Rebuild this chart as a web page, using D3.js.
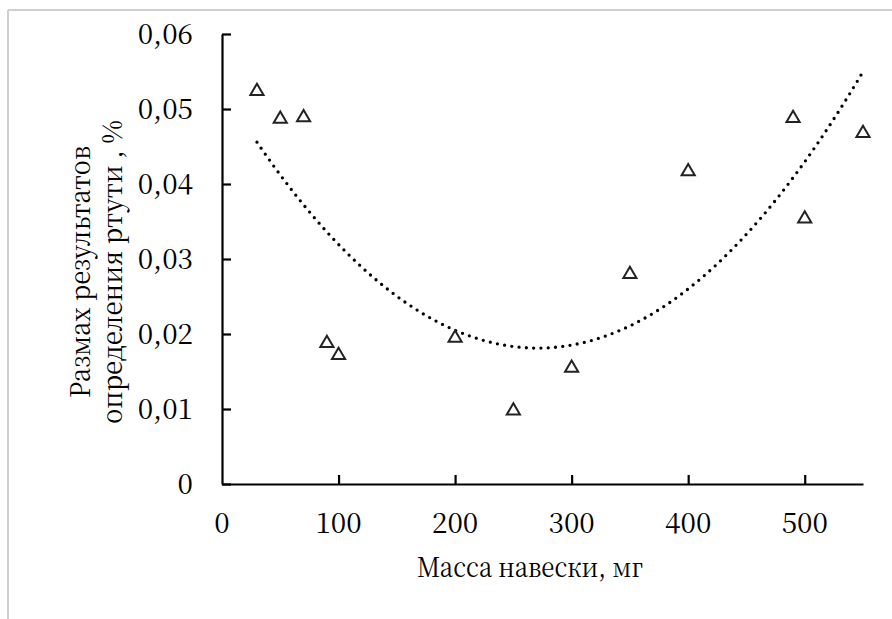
<!DOCTYPE html>
<html>
<head>
<meta charset="utf-8">
<script src="https://cdn.jsdelivr.net/npm/d3@7/dist/d3.min.js"></script>
<style>
  html, body { margin: 0; padding: 0; background: #fff; }
  svg { display: block; }
</style>
</head>
<body>
<svg id="chart" width="892" height="619"></svg>
<script>
// Sample mass, mg
const mass = [30, 50, 70, 90, 100, 200, 250, 300, 350, 400, 490, 500, 550];
// Range of mercury determination results, %
const range = [0.0525, 0.0488, 0.0490, 0.0189, 0.0173, 0.0196, 0.0099, 0.0156, 0.0281, 0.0418, 0.0489, 0.0355, 0.0469];

const xTicks = [0, 100, 200, 300, 400, 500];
const yTicks = [0, 0.01, 0.02, 0.03, 0.04, 0.05, 0.06];
const xTitle = "Масса навески, мг";
const yTitleLines = ["Размах результатов", "определения ртути , %"];

(function () {
const svg = d3.select("#chart");
const W = 892, H = 619;
const serif = "'Noto Serif CJK SC', 'Noto Serif', serif";

// light frame around the figure
svg.append("line").attr("x1", 8).attr("y1", 10).attr("x2", W).attr("y2", 10)
  .attr("stroke", "#cfcfcf").attr("stroke-width", 2);
svg.append("line").attr("x1", 8).attr("y1", 10).attr("x2", 8).attr("y2", H)
  .attr("stroke", "#cfcfcf").attr("stroke-width", 2);

const plotL = 222, plotR = 863, plotT = 34, plotB = 484;
const x = d3.scaleLinear().domain([0, 550]).range([plotL, plotR]);
const y = d3.scaleLinear().domain([0, 0.06]).range([plotB, plotT]);

const fmt = v => v === 0 ? "0" : d3.format(".2f")(v).replace(".", ",");

// Y axis (ticks point inward)
const yAxis = svg.append("g").attr("transform", `translate(${plotL},0)`)
  .call(d3.axisRight(y).tickValues(yTicks).tickSize(9).tickSizeOuter(0).tickFormat(""));
// X axis
const xAxis = svg.append("g").attr("transform", `translate(0,${plotB})`)
  .call(d3.axisTop(x).tickValues(xTicks.filter(t => t > 0)).tickSize(9).tickSizeOuter(0).tickFormat(""));
[yAxis, xAxis].forEach(g => {
  g.select(".domain").attr("stroke", "#000").attr("stroke-width", 2.2);
  g.selectAll(".tick line").attr("stroke", "#000").attr("stroke-width", 2.2);
});

// tick labels
svg.append("g").selectAll("text").data(yTicks).join("text")
  .attr("x", 193).attr("y", d => y(d)).attr("dy", "0.36em")
  .attr("font-family", serif).attr("fill", "#000")
  .attr("text-anchor", "end").attr("font-size", 28).text(fmt);
svg.append("g").selectAll("text").data(xTicks).join("text")
  .attr("x", d => x(d)).attr("y", 533)
  .attr("font-family", serif).attr("fill", "#000")
  .attr("text-anchor", "middle").attr("font-size", 28).text(d => d);

// axis titles (set in a narrow serif face)
svg.append("text").attr("x", 530).attr("y", 577).attr("text-anchor", "middle")
  .attr("font-family", serif).attr("fill", "#000").attr("font-size", 27)
  .attr("textLength", 226).attr("lengthAdjust", "spacingAndGlyphs")
  .text(xTitle);
const yTitleLen = [252, 304];
svg.append("g").attr("transform", "translate(0,272) rotate(-90)")
  .selectAll("text").data(yTitleLines).join("text")
  .attr("x", 0).attr("y", (d, i) => 90 + i * 32)
  .attr("font-family", serif).attr("fill", "#000").attr("font-size", 27)
  .attr("text-anchor", "middle")
  .attr("textLength", (d, i) => yTitleLen[i]).attr("lengthAdjust", "spacingAndGlyphs")
  .text(d => d);

// second-order polynomial trend (least squares on the data)
function polyFit2(xs, ys) {
  const n = xs.length;
  const s = [0, 0, 0, 0, 0], t = [0, 0, 0];
  for (let i = 0; i < n; i++) {
    let p = 1;
    for (let k = 0; k < 5; k++) { s[k] += p; if (k < 3) t[k] += p * ys[i]; p *= xs[i]; }
  }
  const A = [[s[0], s[1], s[2], t[0]], [s[1], s[2], s[3], t[1]], [s[2], s[3], s[4], t[2]]];
  for (let c = 0; c < 3; c++) {
    for (let r = c + 1; r < 3; r++) {
      const f = A[r][c] / A[c][c];
      for (let k = c; k < 4; k++) A[r][k] -= f * A[c][k];
    }
  }
  const b = [0, 0, 0];
  for (let r = 2; r >= 0; r--) {
    let v = A[r][3];
    for (let k = r + 1; k < 3; k++) v -= A[r][k] * b[k];
    b[r] = v / A[r][r];
  }
  return b;
}
const coef = polyFit2(mass, range);
const xMin = d3.min(mass), xMax = d3.max(mass);
const trend = d3.range(0, 201).map(i => {
  const xv = xMin + (xMax - xMin) * i / 200;
  return [xv, coef[0] + coef[1] * xv + coef[2] * xv * xv];
});
svg.append("path").datum(trend)
  .attr("d", d3.line().x(d => x(d[0])).y(d => y(d[1])))
  .attr("fill", "none").attr("stroke", "#000").attr("stroke-width", 3.3)
  .attr("stroke-linecap", "round").attr("stroke-dasharray", "0 7.3");

// open triangle markers
const tri = d3.symbol().type(d3.symbolTriangle).size(75);
svg.append("g").selectAll("path").data(mass.map((m, i) => [m, range[i]])).join("path")
  .attr("transform", d => `translate(${x(d[0])},${y(d[1]) + 1})`)
  .attr("d", tri).attr("fill", "#fff").attr("stroke", "#222").attr("stroke-width", 2);
})();
</script>
</body>
</html>
